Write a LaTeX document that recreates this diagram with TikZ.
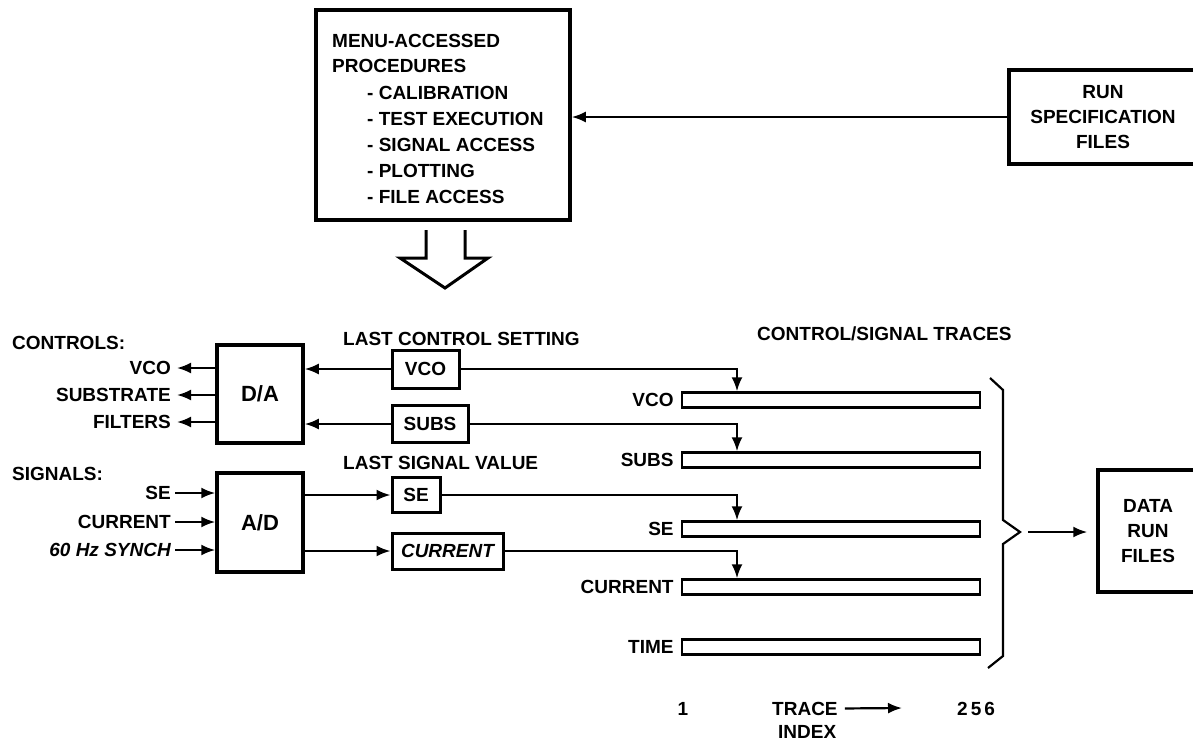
\documentclass[tikz,border=0pt]{standalone}
\usepackage{fontspec}
\setmainfont{Liberation Sans}
\usetikzlibrary{arrows.meta,calc}
\tikzset{
  txt/.style={font=\fontsize{19}{25}\selectfont\bfseries, inner sep=0pt},
  bigbox/.style={draw, line width=3.5pt, inner sep=0pt, font=\fontsize{19}{25}\selectfont\bfseries},
  smallbox/.style={draw, line width=3pt, inner sep=0pt, font=\fontsize{19}{25}\selectfont\bfseries},
  trace/.style={draw, line width=2.4pt, minimum width=298pt, minimum height=15pt, inner sep=0pt},
  conn/.style={line width=2.2pt},
  arr/.style={conn, -{Latex[length=14pt,width=11pt]}},
}
\begin{document}
\begin{tikzpicture}[x=1pt,y=-1pt]
\useasboundingbox (0,0) rectangle (1193,740);

% menu box
\node[bigbox, minimum width=254pt, minimum height=210pt] (menu) at (443,115) {};
\node[txt, anchor=base west] (m1) at (332,47) {MENU-ACCESSED};
\node[txt, anchor=base west] (m2) at (332,72) {PROCEDURES};
\node[txt, anchor=base west] (m3) at (367,99) {- CALIBRATION};
\node[txt, anchor=base west] (m4) at (367,125) {- TEST EXECUTION};
\node[txt, anchor=base west] (m5) at (367,151) {- SIGNAL ACCESS};
\node[txt, anchor=base west] (m6) at (367,177) {- PLOTTING};
\node[txt, anchor=base west] (m7) at (367,203) {- FILE ACCESS};

% run specification files
\node[bigbox, minimum width=188pt, minimum height=94pt, align=center] (run) at (1103,117) {RUN\\SPECIFICATION\\FILES};
\draw[arr] (run.west) -- (run.west -| menu.east);

% hollow arrow
\draw[line width=3pt, line join=miter] (426,230) -- (426,258) -- (400,258) -- (445,288) -- (488,258) -- (465,258) -- (465,230);

% controls
\node[txt, anchor=base west] (controls) at (12,349) {CONTROLS:};
\node[bigbox, minimum width=86pt, minimum height=98pt, font=\fontsize{22}{26}\selectfont\bfseries] (da) at (260,394) {D/A};
\node[txt, anchor=east] (ovco) at (171,368) {VCO};
\node[txt, anchor=east] (osub) at (171,395) {SUBSTRATE};
\node[txt, anchor=east] (ofil) at (171,422) {FILTERS};
\draw[arr] (da.west |- ovco.east) -- ([xshift=6pt]ovco.east);
\draw[arr] (da.west |- osub.east) -- ([xshift=6pt]osub.east);
\draw[arr] (da.west |- ofil.east) -- ([xshift=6pt]ofil.east);

% signals
\node[txt, anchor=base west] (signals) at (12,480) {SIGNALS:};
\node[bigbox, minimum width=86pt, minimum height=99pt, font=\fontsize{22}{26}\selectfont\bfseries] (ad) at (260,522.5) {A/D};
\node[txt, anchor=east] (ise) at (171,493) {SE};
\node[txt, anchor=east] (icur) at (171,522) {CURRENT};
\node[txt, anchor=east, font=\fontsize{19}{25}\selectfont\bfseries\itshape] (isyn) at (171,550) {60 Hz SYNCH};
\draw[arr] ([xshift=4pt]ise.east) -- (ad.west |- ise.east);
\draw[arr] ([xshift=4pt]icur.east) -- (ad.west |- icur.east);
\draw[arr] ([xshift=4pt]isyn.east) -- (ad.west |- isyn.east);

% last values
\node[txt, anchor=base west] (lcs) at (343,345) {LAST CONTROL SETTING};
\node[txt, anchor=base west] (lsv) at (343,469) {LAST SIGNAL VALUE};
\node[smallbox, minimum width=67pt, minimum height=38pt] (bvco) at (425.5,369) {VCO};
\node[smallbox, minimum width=76pt, minimum height=37pt] (bsubs) at (430,424) {SUBS};
\node[smallbox, minimum width=48pt, minimum height=35pt] (bse) at (416,495) {SE};
\node[smallbox, minimum width=111pt, minimum height=36pt, font=\fontsize{19}{25}\selectfont\bfseries\itshape] (bcur) at (447.5,551) {CURRENT};
\draw[arr] (bvco.west) -- (bvco.west -| da.east);
\draw[arr] (bsubs.west) -- (bsubs.west -| da.east);
\draw[arr] (ad.east |- bse.west) -- (bse.west);
\draw[arr] (ad.east |- bcur.west) -- (bcur.west);

% traces
\node[txt, anchor=base west] (cst) at (757,340) {CONTROL/SIGNAL TRACES};
\node[trace] (tvco) at (831,400) {};
\node[trace] (tsubs) at (831,460) {};
\node[trace] (tse) at (831,529) {};
\node[trace] (tcur) at (831,587) {};
\node[trace] (ttime) at (831,647) {};
\node[txt, anchor=east] (lvco) at ([xshift=-7pt]tvco.west) {VCO};
\node[txt, anchor=east] (lsubs) at ([xshift=-7pt]tsubs.west) {SUBS};
\node[txt, anchor=east] (lse) at ([xshift=-7pt]tse.west) {SE};
\node[txt, anchor=east] (lcur) at ([xshift=-7pt]tcur.west) {CURRENT};
\node[txt, anchor=east] (ltime) at ([xshift=-7pt]ttime.west) {TIME};
\coordinate (dx) at (737,0);
\draw[arr] (bvco.east) -| (dx |- tvco.north);
\draw[arr] (bsubs.east) -| (dx |- tsubs.north);
\draw[arr] (bse.east) -| (dx |- tse.north);
\draw[arr] (bcur.east) -| (dx |- tcur.north);

% brace and data run files
\draw[line width=2.2pt, line join=miter] (990,378) -- (1003,390) -- (1003,520) -- (1020,532) -- (1003,544) -- (1003,656) -- (988,668);
\coordinate (bt) at (1028,532);
\node[bigbox, minimum width=100pt, minimum height=122pt, align=center] (data) at (1148,531) {DATA\\RUN\\FILES};
\draw[arr, shorten >=9pt] (bt) -- (data.west |- bt);

% trace index
\node[txt, anchor=base] (one) at (683,715) {1};
\node[txt, anchor=base west] (ltrace) at (772,715) {TRACE};
\coordinate (taend) at (902,708);
\draw[arr] ([xshift=7pt]ltrace.east) -- (taend);
\node[txt, anchor=base west] (n256) at (957,715) {2\hspace{3pt}5\hspace{3pt}6};
\node[txt, anchor=base west] (lindex) at (778,738) {INDEX};
\end{tikzpicture}
\end{document}
